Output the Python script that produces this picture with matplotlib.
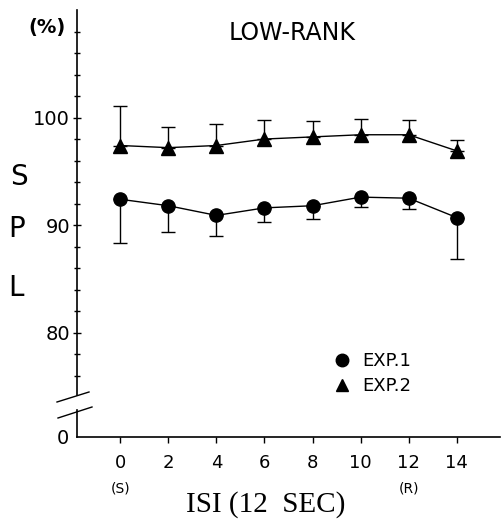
import numpy as np
import matplotlib
matplotlib.use('Agg')
import matplotlib.pyplot as plt
from matplotlib.lines import Line2D

# data
isi = [0, 2, 4, 6, 8, 10, 12, 14]
exp1_mean = [92.4, 91.8, 90.9, 91.6, 91.8, 92.6, 92.5, 90.7]
exp1_low = [88.3, 89.4, 89.0, 90.3, 90.6, 91.7, 91.5, 86.8]
exp2_mean = [97.4, 97.2, 97.4, 98.0, 98.2, 98.4, 98.4, 96.9]
exp2_high = [101.1, 99.1, 99.4, 99.8, 99.7, 99.9, 99.8, 97.9]
xtick_labels = ['0', '2', '4', '6', '8', '10', '12', '14']

plt.rcParams['font.family'] = 'DejaVu Sans'

W, H = 501, 526
fig = plt.figure(figsize=(W / 100, H / 100), dpi=100)

# upper axes (broken y axis)
ax = fig.add_axes([77 / W, 1 - 395 / H, 423 / W, 385 / H])
# lower axes, just the zero part
ax0 = fig.add_axes([77 / W, 1 - 437 / H, 423 / W, 27 / H], sharex=ax)

for a in (ax, ax0):
    a.spines['top'].set_visible(False)
    a.spines['right'].set_visible(False)
    a.spines['left'].set_linewidth(1.2)
    a.patch.set_alpha(0)
ax.spines['bottom'].set_visible(False)
ax0.spines['bottom'].set_linewidth(1.2)

e1 = np.array(exp1_mean)
e2 = np.array(exp2_mean)
err1 = [e1 - np.array(exp1_low), np.zeros(len(e1))]
err2 = [np.zeros(len(e2)), np.array(exp2_high) - e2]

ax.errorbar(isi, exp1_mean, yerr=err1, fmt='-o', color='black', ms=9.5,
            lw=1, elinewidth=1, capsize=5, capthick=1)
ax.errorbar(isi, exp2_mean, yerr=err2, fmt='-^', color='black', ms=10,
            lw=1, elinewidth=1, capsize=5, capthick=1)

ax.set_xlim(-1.8, 15.8)
ax.set_ylim(74.2, 110)
ax.set_yticks([80, 90, 100])
ax.set_yticks(np.arange(76, 110, 2), minor=True)
ax.tick_params(axis='y', which='major', direction='inout', length=6, width=1,
               labelsize=14, pad=2)
ax.tick_params(axis='y', which='minor', direction='inout', length=4, width=1)
ax.tick_params(axis='x', bottom=False, labelbottom=False)

ax0.set_ylim(0, 1)
ax0.set_yticks([0])
ax0.tick_params(axis='y', direction='inout', length=0, labelsize=14, pad=6)
ax0.set_xticks(isi)
ax0.set_xticklabels(xtick_labels)
ax0.tick_params(axis='x', direction='out', length=4, width=1, labelsize=13,
                pad=8)
ax0.set_xlabel('ISI (12  SEC)', family='Liberation Serif', fontsize=21)
ax0.xaxis.set_label_coords((266 - 77) / 423, -2.0)

# (S) and (R) under the ticks
for xv, lab in [(0, '(S)'), (12, '(R)')]:
    ax0.annotate(lab, (xv, 0), xycoords=('data', 'axes fraction'),
                 xytext=(0, -37), textcoords='offset points',
                 ha='center', va='center', fontsize=10)

# axis break marks
fig.add_artist(Line2D([57 / W, 89 / W], [1 - 402 / H, 1 - 392 / H],
                      color='black', lw=1))
fig.add_artist(Line2D([58 / W, 92 / W], [1 - 418 / H, 1 - 407 / H],
                      color='black', lw=1))

# labels
fig.text(47 / W, 1 - 27 / H, '(%)', ha='center', va='center', fontsize=14,
         fontweight='bold')
fig.text(292 / W, 1 - 33 / H, 'LOW-RANK', ha='center', va='center',
         fontsize=17)
fig.text(19 / W, 1 - 177 / H, 'S', ha='center', va='center', fontsize=20)
fig.text(17 / W, 1 - 229 / H, 'P', ha='center', va='center', fontsize=20)
fig.text(16 / W, 1 - 288 / H, 'L', ha='center', va='center', fontsize=20)

# legend
h1 = Line2D([], [], marker='o', ls='none', color='black', ms=9)
h2 = Line2D([], [], marker='^', ls='none', color='black', ms=9)
ax.legend([h1, h2], ['EXP.1', 'EXP.2'], loc='upper left',
          bbox_to_anchor=((326 - 77) / 423, 50 / 385), frameon=False,
          fontsize=13, handlelength=1, handletextpad=0.6, labelspacing=0.4,
          borderaxespad=0)

fig.savefig('out.png', dpi=100)
